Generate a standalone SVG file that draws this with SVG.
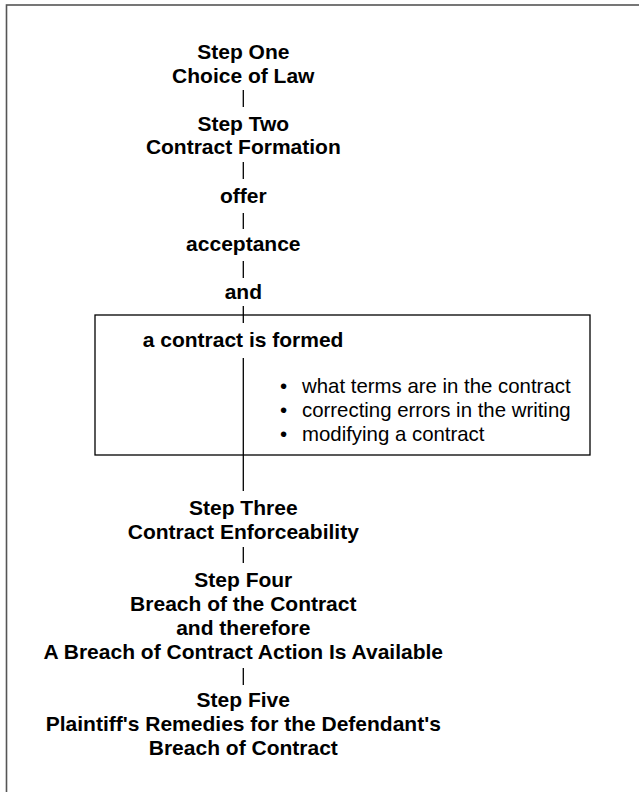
<svg xmlns="http://www.w3.org/2000/svg" width="639" height="792" viewBox="0 0 639 792">
<style>
.b{font-family:"Liberation Sans",Arial,sans-serif;font-weight:bold;font-size:21px;fill:#000;text-anchor:middle}
.r{font-family:"Liberation Sans",Arial,sans-serif;font-size:20.4px;fill:#000}
.c{stroke:#000;stroke-width:1.3;fill:none}
</style>
<rect width="639" height="792" fill="#fff"/>
<rect x="6.5" y="5" width="800" height="900" fill="none" stroke="#555" stroke-width="1.6"/>
<g id="connectors">
<line class="c" x1="243.3" y1="90" x2="243.3" y2="107"/>
<line class="c" x1="243.3" y1="162" x2="243.3" y2="179"/>
<line class="c" x1="243.3" y1="213" x2="243.3" y2="229"/>
<line class="c" x1="243.3" y1="261" x2="243.3" y2="278"/>
<line class="c" x1="243.3" y1="306" x2="243.3" y2="323"/>
<line class="c" x1="243.3" y1="358" x2="243.3" y2="491"/>
<line class="c" x1="243.3" y1="547" x2="243.3" y2="563"/>
<line class="c" x1="243.3" y1="668" x2="243.3" y2="685"/>
</g>
<g id="step1"><text class="b" x="243.3" y="59">Step One</text><text class="b" x="243.3" y="83">Choice of Law</text></g>
<g id="step2"><text class="b" x="243.3" y="131">Step Two</text><text class="b" x="243.3" y="154">Contract Formation</text></g>
<g id="offer"><text class="b" x="243.3" y="203">offer</text></g>
<g id="acceptance"><text class="b" x="243.3" y="251">acceptance</text></g>
<g id="and"><text class="b" x="243.3" y="299">and</text></g>
<g id="formed">
<rect x="95" y="315" width="495" height="140" fill="none" stroke="#000" stroke-width="1.3"/>
<text class="b" x="142.7" y="347" style="text-anchor:start">a contract is formed</text>
<text class="r" y="393"><tspan x="280">•</tspan><tspan x="302">what terms are in the contract</tspan></text>
<text class="r" y="417"><tspan x="280">•</tspan><tspan x="302">correcting errors in the writing</tspan></text>
<text class="r" y="441"><tspan x="280">•</tspan><tspan x="302">modifying a contract</tspan></text>
</g>
<g id="step3"><text class="b" x="243.3" y="515">Step Three</text><text class="b" x="243.3" y="539">Contract Enforceability</text></g>
<g id="step4"><text class="b" x="243.3" y="587">Step Four</text><text class="b" x="243.3" y="611">Breach of the Contract</text><text class="b" x="243.3" y="635">and therefore</text><text class="b" x="243.3" y="659">A Breach of Contract Action Is Available</text></g>
<g id="step5"><text class="b" x="243.3" y="707">Step Five</text><text class="b" x="243.3" y="731">Plaintiff's Remedies for the Defendant's</text><text class="b" x="243.3" y="755">Breach of Contract</text></g>
</svg>
